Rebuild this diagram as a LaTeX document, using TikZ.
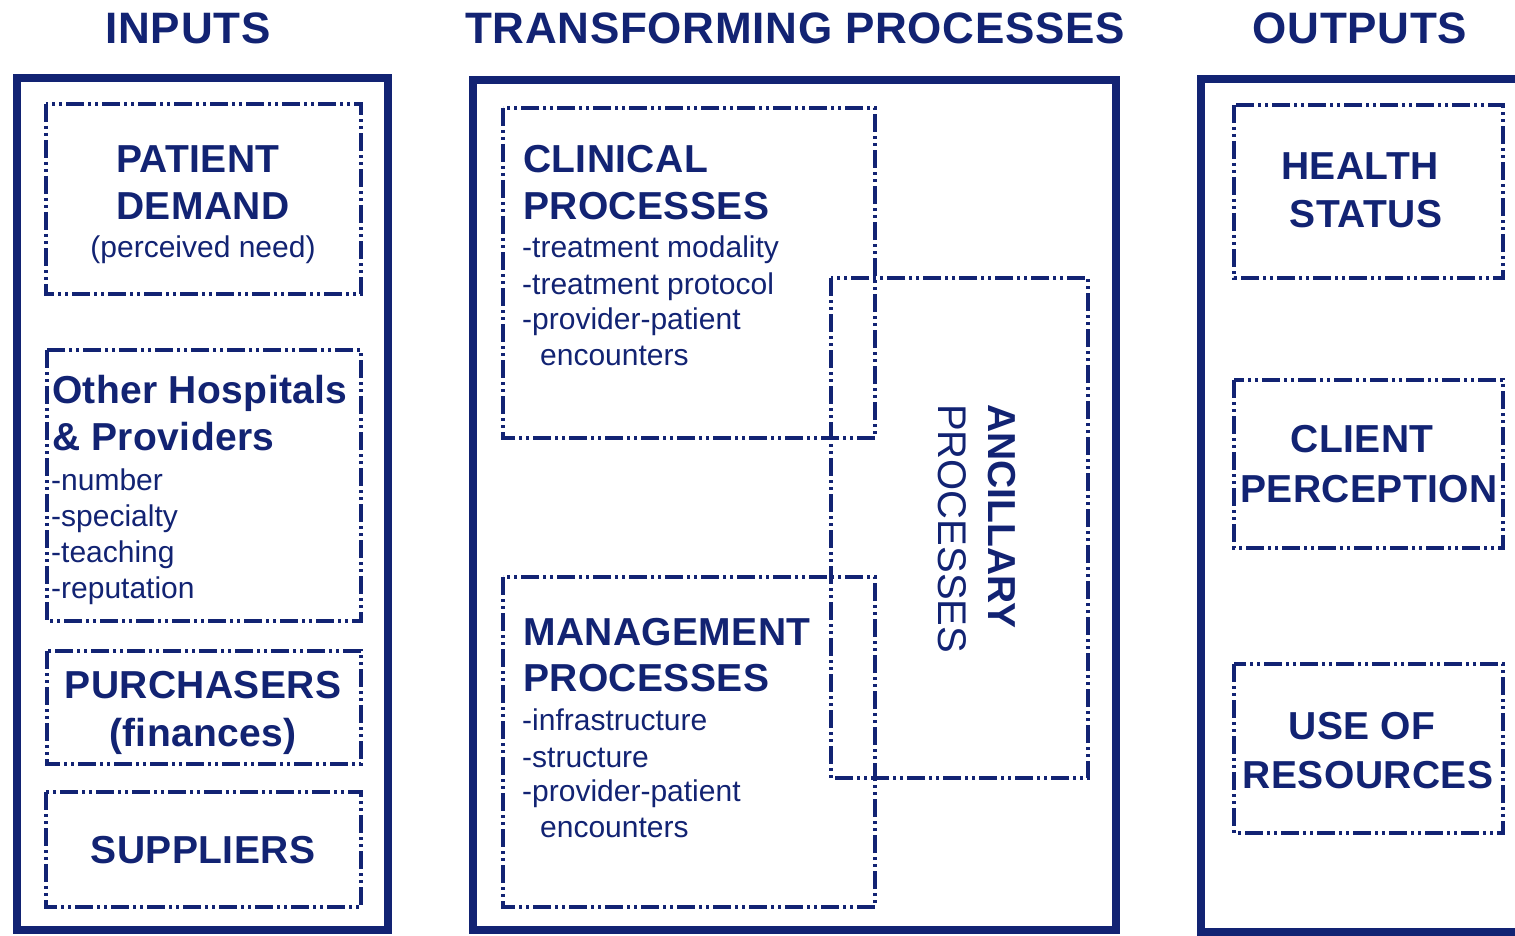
\documentclass[tikz,border=0pt]{standalone}
\usepackage{fontspec}
\setmainfont{Liberation Sans}
\newfontfamily\titlefam[LetterSpace=1.6]{Liberation Sans}
\newfontfamily\headfam[LetterSpace=1.0]{Liberation Sans}
\definecolor{navy}{RGB}{18,35,115}
\begin{document}
\begin{tikzpicture}[x=1pt,y=-1pt,
  outerbox/.style={draw=navy,line width=8.5pt},
  dashbox/.style={draw=navy,line width=3.5pt,dash pattern=on 18pt off 4pt on 3pt off 4pt on 3pt off 4pt},
  title/.style={font=\titlefam\fontsize{44}{50}\selectfont\bfseries,text=navy,inner sep=0pt,anchor=base},
  head/.style={font=\headfam\fontsize{39}{46}\selectfont\bfseries,text=navy,inner sep=0pt,anchor=base},
  headl/.style={head,anchor=base west},
  item/.style={font=\fontsize{30}{36}\selectfont,text=navy,inner sep=0pt,anchor=base west},
  itemc/.style={item,anchor=base},
  vtext/.style={font=\fontsize{40}{46}\selectfont,text=navy,inner sep=0pt,rotate=-90,anchor=base west}]
\useasboundingbox (0,0) rectangle (1515,936);
\clip (0,0) rectangle (1515,936);
\fill[white] (0,0) rectangle (1515,936);

% titles
\node[title] (tin) at (188,44) {INPUTS};
\node[title] (ttr) at (795,44) {TRANSFORMING PROCESSES};
\node[title] (tout) at (1360,44) {OUTPUTS};

% outer boxes
\draw[outerbox] (17,78) rectangle (388,930);
\draw[outerbox] (473,80) rectangle (1116,930);
\draw[outerbox] (1201,79) rectangle (1540,932);

% input boxes
\draw[dashbox] (46,104) rectangle (361,294);
\draw[dashbox] (47,350) rectangle (361,621);
\draw[dashbox] (47,651) rectangle (361,764);
\draw[dashbox] (46,792) rectangle (361,907);

% process boxes
\draw[dashbox] (503,108) rectangle (875,438);
\draw[dashbox] (503,577) rectangle (875,907);
\draw[dashbox] (831,278) rectangle (1088,778);

% output boxes
\draw[dashbox] (1234,105) rectangle (1503,278);
\draw[dashbox] (1234,380) rectangle (1503,548);
\draw[dashbox] (1234,664) rectangle (1503,833);

% input texts
\node[head] (pd1) at (198,173) {PATIENT};
\node[head] (pd2) at (203,220) {DEMAND};
\node[itemc] (pd3) at (203,258) {(perceived need)};

\node[headl] (oh1) at (52,403) {Other Hospitals};
\node[headl] (oh2) at (52,450) {\& Providers};
\node[item] (oh3) at (51,490) {-number};
\node[item] (oh4) at (51,526) {-specialty};
\node[item] (oh5) at (51,562) {-teaching};
\node[item] (oh6) at (51,598) {-reputation};

\node[head] (pu1) at (203,698) {PURCHASERS};
\node[head] (pu2) at (203,746) {(finances)};

\node[head] (su1) at (203,863) {SUPPLIERS};

% process texts
\node[headl] (cl1) at (523,173) {CLINICAL};
\node[headl] (cl2) at (523,219) {PROCESSES};
\node[item] (cl3) at (522,258) {-treatment modality};
\node[item] (cl4) at (522,294) {-treatment protocol};
\node[item] (cl5) at (522,329) {-provider-patient};
\node[item] (cl6) at (540,365) {encounters};

\node[headl] (mg1) at (523,645) {MANAGEMENT};
\node[headl] (mg2) at (523,691) {PROCESSES};
\node[item] (mg3) at (522,730) {-infrastructure};
\node[item] (mg4) at (522,767) {-structure};
\node[item] (mg5) at (522,801) {-provider-patient};
\node[item] (mg6) at (540,837) {encounters};

\node[vtext,font=\fontsize{39}{46}\selectfont\bfseries] (an1) at (988,404) {ANCILLARY};
\node[vtext] (an2) at (938,404) {PROCESSES};

% output texts
\node[head] (hs1) at (1360,180) {HEALTH};
\node[head] (hs2) at (1366,228) {STATUS};
\node[head] (cp1) at (1362,452) {CLIENT};
\node[head] (cp2) at (1369,502) {PERCEPTION};
\node[head] (ur1) at (1362,739) {USE OF};
\node[head] (ur2) at (1368,788) {RESOURCES};
\end{tikzpicture}
\end{document}
